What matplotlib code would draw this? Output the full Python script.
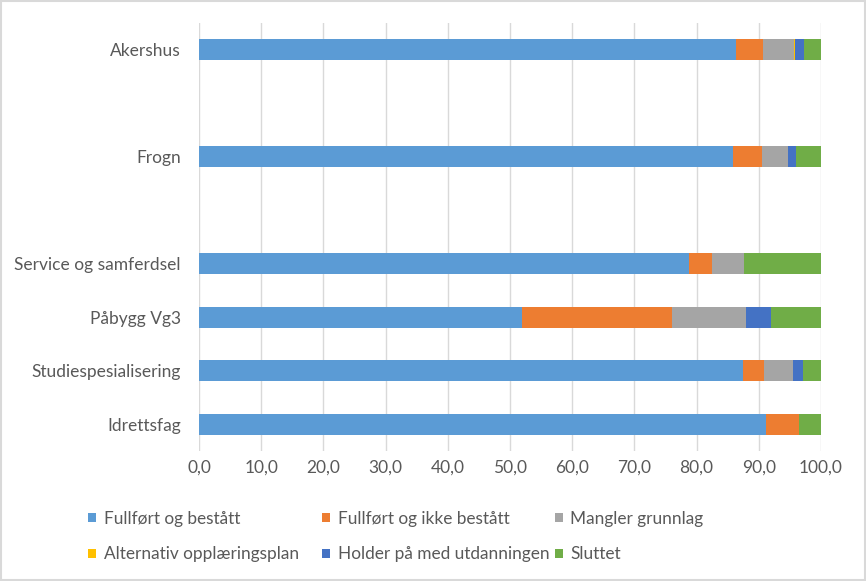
import matplotlib.pyplot as plt
import numpy as np

plt.rcParams['font.family'] = ['Lato', 'DejaVu Sans']

# categories, bottom to top (blank rows give the gaps)
categories = ['Idrettsfag', 'Studiespesialisering', 'Påbygg Vg3',
              'Service og samferdsel', '', 'Frogn', '', 'Akershus']

series_names = ['Fullført og bestått', 'Fullført og ikke bestått', 'Mangler grunnlag',
                'Alternativ opplæringsplan', 'Holder på med utdanningen', 'Sluttet']

fullfort_bestatt = [91.2, 87.5, 51.9, 78.8, 0, 85.9, 0, 86.3]
fullfort_ikke = [5.3, 3.3, 24.1, 3.7, 0, 4.6, 0, 4.4]
mangler = [0.0, 4.7, 11.9, 5.1, 0, 4.2, 0, 5.0]
alternativ = [0.0, 0.0, 0.0, 0.0, 0, 0.0, 0, 0.2]
holder_pa = [0.0, 1.6, 4.1, 0.0, 0, 1.3, 0, 1.4]
sluttet = [3.5, 2.9, 8.0, 12.4, 0, 4.0, 0, 2.7]

colors = ['#5B9BD5', '#ED7D31', '#A5A5A5', '#FFC000', '#4472C4', '#70AD47']
series = [fullfort_bestatt, fullfort_ikke, mangler, alternativ, holder_pa, sluttet]

fig = plt.figure(figsize=(8.66, 5.81), dpi=100)
ax = fig.add_axes([199 / 866, 1 - 451 / 581, 622 / 866, 428 / 581])

y = np.arange(len(categories))
left = np.zeros(len(categories))
handles = []
for name, vals, c in zip(series_names, series, colors):
    vals = np.array(vals)
    h = ax.barh(y, vals, left=left, height=0.39, color=c, label=name, zorder=3)
    handles.append(h)
    left += vals

ax.set_xlim(0, 100)
ax.set_ylim(-0.5, len(categories) - 0.5)
ax.set_xticks(np.arange(0, 101, 10))
ax.set_xticklabels([f'{v:.1f}'.replace('.', ',') for v in range(0, 101, 10)],
                   fontsize=12.5, color='#595959')
ax.set_yticks(y)
ax.set_yticklabels(categories, fontsize=12.5, color='#595959')
ax.tick_params(axis='y', length=0, pad=13)
ax.tick_params(axis='x', length=0, pad=6)
ax.grid(axis='x', color='#D9D9D9', linewidth=1, zorder=0)
for s in ax.spines.values():
    s.set_visible(False)

# legend: equal-width columns like the original, one legend per column
col_x = [88, 322, 555]
for k, x0 in enumerate(col_x):
    idx = [k, k + 3]
    fig.legend([handles[i] for i in idx], [series_names[i] for i in idx],
               loc='upper left', bbox_to_anchor=(x0 / 866, 1 - 511 / 581),
               frameon=False, fontsize=12.4, handlelength=0.45, handleheight=0.45,
               handletextpad=0.45, labelspacing=1.12, borderpad=0, borderaxespad=0,
               labelcolor='#595959')

# light border around the chart area
fig.patches.append(plt.Rectangle((0.001, 0.001), 0.998, 0.998, transform=fig.transFigure,
                                 fill=False, edgecolor='#D9D9D9', linewidth=1.5))

fig.savefig('out.png', dpi=100)
